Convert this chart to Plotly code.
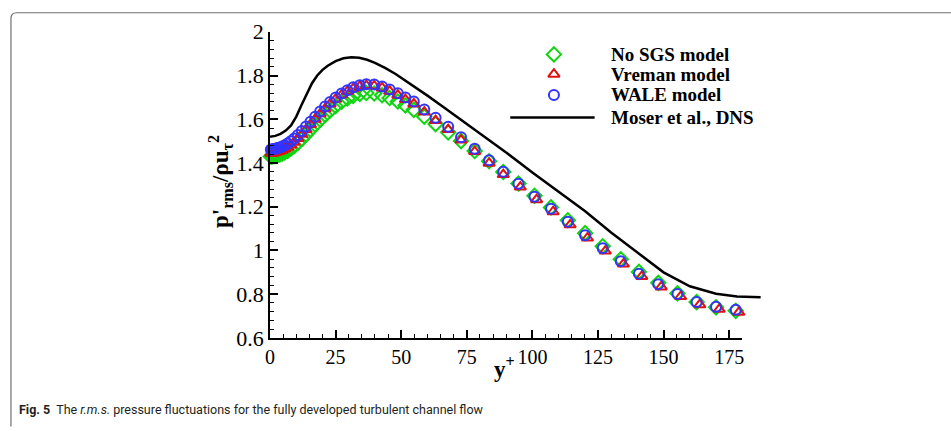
import plotly.graph_objects as go

# ---- data -------------------------------------------------------------
# Moser et al. DNS, Re_tau = 180
dns_yplus = [0, 2, 4, 6, 8, 10, 12, 14, 16, 18, 20, 22, 25, 28, 31, 34, 37, 40,
             44, 48, 52, 56, 60, 65, 70, 80, 90, 100, 110, 120, 130, 140, 150,
             160, 170, 178, 187]
dns_prms = [1.520, 1.524, 1.533, 1.548, 1.572, 1.612, 1.665, 1.718, 1.765, 1.800,
            1.826, 1.845, 1.866, 1.879, 1.884, 1.881, 1.872, 1.858, 1.834, 1.806,
            1.774, 1.742, 1.708, 1.665, 1.622, 1.535, 1.448, 1.356, 1.268, 1.180,
            1.082, 0.990, 0.900, 0.836, 0.802, 0.790, 0.786]

# LES grid (wall-normal positions in wall units)
les_yplus = [0.3, 0.7, 1.1, 1.6, 2.2, 2.9, 3.7, 4.6, 5.6, 6.7, 7.9, 9.2, 10.6, 12.1,
             13.7, 15.4, 17.2, 19.1, 21.0, 22.9, 25.0, 27.3, 29.5, 31.7, 34.2, 36.7,
             39.7, 42.7, 45.6, 48.7, 51.6, 54.8, 58.8, 63.1, 67.9, 72.8, 78.0, 83.5,
             88.9, 94.7, 100.8, 107.1, 113.5, 120.1, 126.8, 133.7, 140.6, 148.0,
             155.3, 162.6, 170.0, 177.5]

nosgs_prms = [1.430, 1.430, 1.431, 1.432, 1.434, 1.436, 1.439, 1.443, 1.448, 1.455,
              1.465, 1.477, 1.492, 1.510, 1.530, 1.552, 1.575, 1.598, 1.620, 1.640,
              1.660, 1.680, 1.695, 1.707, 1.716, 1.720, 1.718, 1.710, 1.697, 1.681,
              1.663, 1.643, 1.612, 1.578, 1.540, 1.500, 1.455, 1.408, 1.359, 1.306,
              1.250, 1.197, 1.138, 1.079, 1.019, 0.960, 0.902, 0.852, 0.804, 0.764,
              0.740, 0.724]

vreman_yplus = [0.3, 0.7, 1.1, 1.6, 2.2, 2.9, 3.7, 4.6, 5.6, 6.7, 7.9, 9.2, 10.6, 12.1,
                13.7, 15.4, 17.2, 19.1, 21.0, 22.9, 25.0, 27.3, 29.5, 31.7, 34.2, 36.7,
                39.7, 42.7, 45.6, 48.7, 51.6, 54.8, 58.8, 63.1, 67.9, 72.8, 78.0, 83.5,
                88.9, 95.4, 101.6, 107.9, 114.4, 121.0, 127.8, 134.7, 141.7, 149.1,
                156.5, 163.8, 171.2, 178.7]
vreman_prms = [1.445, 1.445, 1.446, 1.447, 1.449, 1.451, 1.454, 1.458, 1.464, 1.472,
               1.482, 1.495, 1.512, 1.531, 1.553, 1.576, 1.600, 1.625, 1.648, 1.670,
               1.692, 1.711, 1.727, 1.740, 1.750, 1.754, 1.752, 1.743, 1.728, 1.710,
               1.690, 1.670, 1.633, 1.594, 1.553, 1.505, 1.452, 1.399, 1.347, 1.290,
               1.232, 1.177, 1.117, 1.057, 0.997, 0.938, 0.881, 0.833, 0.789, 0.752,
               0.731, 0.717]

wale_prms = [1.462, 1.462, 1.463, 1.464, 1.466, 1.468, 1.471, 1.475, 1.481, 1.489,
             1.499, 1.512, 1.528, 1.546, 1.567, 1.589, 1.612, 1.636, 1.658, 1.679,
             1.700, 1.718, 1.733, 1.746, 1.755, 1.760, 1.759, 1.750, 1.736, 1.719,
             1.700, 1.681, 1.645, 1.607, 1.566, 1.518, 1.465, 1.412, 1.360, 1.305,
             1.246, 1.191, 1.131, 1.070, 1.010, 0.951, 0.893, 0.846, 0.801, 0.764,
             0.743, 0.729]

x_tick_step = 25
y_tick_step = 0.2

legend_names = ["No SGS model", "Vreman model", "WALE model", "Moser et al., DNS"]

# ---- page geometry (pixels from the top-left corner) ------------------
W, H = 951, 431


def px(x):
    return x / W


def py(y):
    return 1 - y / H


X_LEFT, X_PER_UNIT = 267, 2.643
X_AXIS_MAX = 180          # drawn axis extent
X_CURVE_MAX = 188         # the DNS curve runs a little past the axis end
Y_BOTTOM, Y_TOP = 346, 21

SERIF = "Liberation Serif, Times New Roman, serif"
GREEN, RED, BLUE = "#11d411", "#e01010", "#3333ff"
MSIZE, MLINE = 10, 2
CLEAR = "rgba(0,0,0,0)"

fig = go.Figure()

# DNS curve on a twin x-axis with the same scale but a wider clip region
fig.add_trace(go.Scatter(x=dns_yplus, y=dns_prms, mode="lines", xaxis="x3", yaxis="y",
                         line=dict(color="black", width=2.5),
                         showlegend=False))
fig.add_trace(go.Scatter(x=les_yplus, y=nosgs_prms, mode="markers",
                         marker=dict(symbol="diamond-open", size=MSIZE + 1, color=GREEN,
                                     line=dict(width=MLINE, color=GREEN)),
                         cliponaxis=False, showlegend=False))
fig.add_trace(go.Scatter(x=vreman_yplus, y=vreman_prms, mode="markers",
                         marker=dict(symbol="triangle-up-open", size=MSIZE, color=RED,
                                     line=dict(width=MLINE, color=RED)),
                         cliponaxis=False, showlegend=False))
fig.add_trace(go.Scatter(x=les_yplus, y=wale_prms, mode="markers",
                         marker=dict(symbol="circle-open", size=MSIZE, color=BLUE,
                                     line=dict(width=MLINE, color=BLUE)),
                         cliponaxis=False, showlegend=False))

# legend keys, drawn on a pixel-space overlay axis
key_x = 553
key_rows = [45, 66, 88, 112]
key_styles = [("diamond-open", GREEN, MSIZE + 1), ("triangle-up-open", RED, MSIZE),
              ("circle-open", BLUE, MSIZE)]
for (sym, col, sz), row in zip(key_styles, key_rows[:3]):
    fig.add_trace(go.Scatter(x=[key_x], y=[row], mode="markers", xaxis="x2", yaxis="y2",
                             marker=dict(symbol=sym, size=sz, color=col,
                                         line=dict(width=MLINE, color=col)),
                             cliponaxis=False, showlegend=False, hoverinfo="skip"))

shapes = [
    # legend line sample
    dict(type="line", xref="paper", yref="paper", x0=px(509), x1=px(594),
         y0=py(key_rows[3]), y1=py(key_rows[3]), line=dict(color="black", width=2.5)),
    # figure frame with rounded corner
    dict(type="path", xref="paper", yref="paper",
         path=(f"M {px(6)},{py(440)} L {px(6)},{py(7)} "
               f"Q {px(6)},{py(0.8)} {px(12)},{py(0.8)} L {px(955)},{py(0.8)}"),
         line=dict(color="#707070", width=1.2)),
]

annotations = []
for name, row in zip(legend_names, key_rows):
    annotations.append(dict(text=f"<b>{name}</b>", xref="paper", yref="paper",
                            x=px(608), y=py(row), xanchor="left", yanchor="middle",
                            showarrow=False, font=dict(family=SERIF, size=19, color="black")))
annotations.append(dict(text="<b>p'<sub>rms</sub>/ρu<sub>τ</sub><sup>2</sup></b>",
                        xref="paper", yref="paper", x=px(217), y=py(180),
                        xanchor="center", yanchor="middle", textangle=-90,
                        showarrow=False, font=dict(family=SERIF, size=23, color="black")))
annotations.append(dict(text="<b>y<sup>+</sup></b>", xref="paper", yref="paper",
                        x=px(503), y=py(377), xanchor="center", yanchor="middle",
                        showarrow=False, font=dict(family=SERIF, size=23, color="black")))
annotations.append(dict(text="<b>Fig. 5</b>  The <i>r.m.s.</i> pressure fluctuations for the "
                             "fully developed turbulent channel flow",
                        xref="paper", yref="paper", x=px(12), y=py(422),
                        xanchor="left", yanchor="middle", showarrow=False,
                        font=dict(family="Roboto, sans-serif", size=12.5, color="#231f20")))

fig.update_layout(
    width=W, height=H,
    margin=dict(l=0, r=0, t=0, b=0),
    paper_bgcolor="white", plot_bgcolor=CLEAR,
    xaxis=dict(domain=[px(X_LEFT), px(X_LEFT + X_PER_UNIT * X_AXIS_MAX)],
               range=[0, X_AXIS_MAX], showline=True, linecolor="black", linewidth=2,
               showgrid=False, zeroline=False,
               tickmode="linear", tick0=0, dtick=x_tick_step,
               ticks="inside", ticklen=8, tickwidth=1.5, tickcolor="black",
               minor=dict(dtick=5, ticks="inside", ticklen=4, tickwidth=1.2,
                          tickcolor="black"),
               tickfont=dict(family=SERIF, size=20, color="black"), anchor="y"),
    xaxis3=dict(domain=[px(X_LEFT), px(X_LEFT + X_PER_UNIT * X_CURVE_MAX)],
                range=[0, X_CURVE_MAX], visible=False, anchor="y"),
    yaxis=dict(domain=[py(Y_BOTTOM), py(Y_TOP)], range=[0.6, 2.0],
               showline=True, linecolor="black", linewidth=2,
               showgrid=False, zeroline=False,
               tickmode="linear", tick0=0.6, dtick=y_tick_step,
               ticks="inside", ticklen=8, tickwidth=1.5, tickcolor="black",
               minor=dict(dtick=0.04, ticks="inside", ticklen=4,
                          tickwidth=1.2, tickcolor="black"),
               tickfont=dict(family=SERIF, size=22, color="black"), anchor="x"),
    xaxis2=dict(domain=[0, 1], range=[0, W], visible=False, anchor="y2"),
    yaxis2=dict(domain=[0, 1], range=[H, 0], visible=False, anchor="x2"),
    shapes=shapes,
    annotations=annotations,
)

fig.write_html("out.html")
